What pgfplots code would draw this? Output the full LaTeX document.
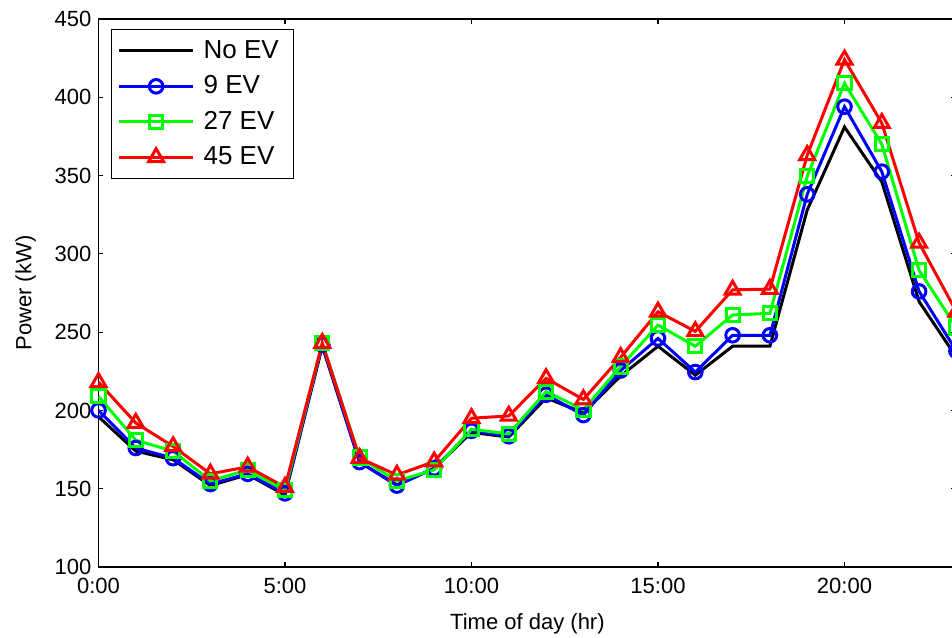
\documentclass[border=0pt]{standalone}
\usepackage{fontspec}
\setmainfont{Liberation Sans}
\usepackage{pgfplots}
\usepackage{pgfplotstable}
\pgfplotsset{compat=1.18}

\pgfplotstableread{
h noev ev9 ev27 ev45
0 196 200 209 218
1 174 176 181 192
2 168.5 169.5 174 177
3 152 153 155 159.5
4 159 159.5 162 164
5 146 147 149 151
6 241 242 243 243
7 167 167 170 169.5
8 152.5 152 155 158.8
9 163 163 162 167.3
10 186 187 188 195
11 183 183.5 185 196.5
12 208 210 212 220.5
13 198.5 197 200.5 207
14 222 225.5 228 234
15 241 246 254.5 263
16 222.5 224.5 241 250.5
17 241 248 261 277
18 241 248 262 277.5
19 328 338 349.5 363
20 381 394 409 424
21 346 352.5 370 383.5
22 269.5 276 289.5 307
23 234 238 253 263
}\datatable

\definecolor{mblue}{RGB}{0,0,255}
\definecolor{mgreen}{RGB}{0,255,0}
\definecolor{mred}{RGB}{255,0,0}

\begin{document}
\begin{tikzpicture}
\begin{axis}[
  name=ax,
  scale only axis,
  width=428.95pt, height=274pt,
  xmin=0, xmax=23, ymin=100, ymax=450,
  xtick={0,5,10,15,20},
  xticklabels={0:00,5:00,10:00,15:00,20:00},
  ytick={100,150,...,450},
  tick align=inside,
  major tick length=2.5pt,
  tick style={black, line width=0.6pt},
  axis line style={black, line width=0.8pt},
  /pgf/number format/assume math mode=true,
  ticklabel style={font=\fontsize{11}{13}\selectfont},
  xticklabel style={yshift=-1.8pt},
  label style={font=\fontsize{11}{13}\selectfont},
  xlabel={Time of day (hr)},
  xlabel style={yshift=-3.5pt},
  ylabel={Power (kW)},
  ylabel style={yshift=2.5pt},
  legend style={
    at={(0.0146,0.982)}, anchor=north west,
    font=\fontsize{13}{15}\selectfont,
    draw=black, line width=0.6pt,
    inner xsep=3pt, inner ysep=3.5pt,
    row sep=3.2pt,
    cells={anchor=west},
    nodes={inner xsep=4.5pt},
  },
  legend image code/.code={
    \draw[mark repeat=2,mark phase=2] plot coordinates {(0pt,0pt) (18.5pt,0pt) (37pt,0pt)};
  },
  every axis plot/.append style={line width=1.5pt},
]
\addplot[black, no markers] table[x=h,y=noev] {\datatable};
\addlegendentry{No EV}
\addplot[mblue, mark=o, mark size=3.4pt] table[x=h,y=ev9] {\datatable};
\addlegendentry{9 EV}
\addplot[mgreen, mark=square, mark size=3.3pt] table[x=h,y=ev27] {\datatable};
\addlegendentry{27 EV}
\addplot[mred, mark=triangle, mark size=4.3pt] table[x=h,y=ev45] {\datatable};
\addlegendentry{45 EV}
\end{axis}
\pgfresetboundingbox
\path[use as bounding box] ([shift={(-49.25pt,-35pt)}]ax.south west) rectangle ([shift={(426.75pt,283.5pt)}]ax.south west);
\end{tikzpicture}
\end{document}
